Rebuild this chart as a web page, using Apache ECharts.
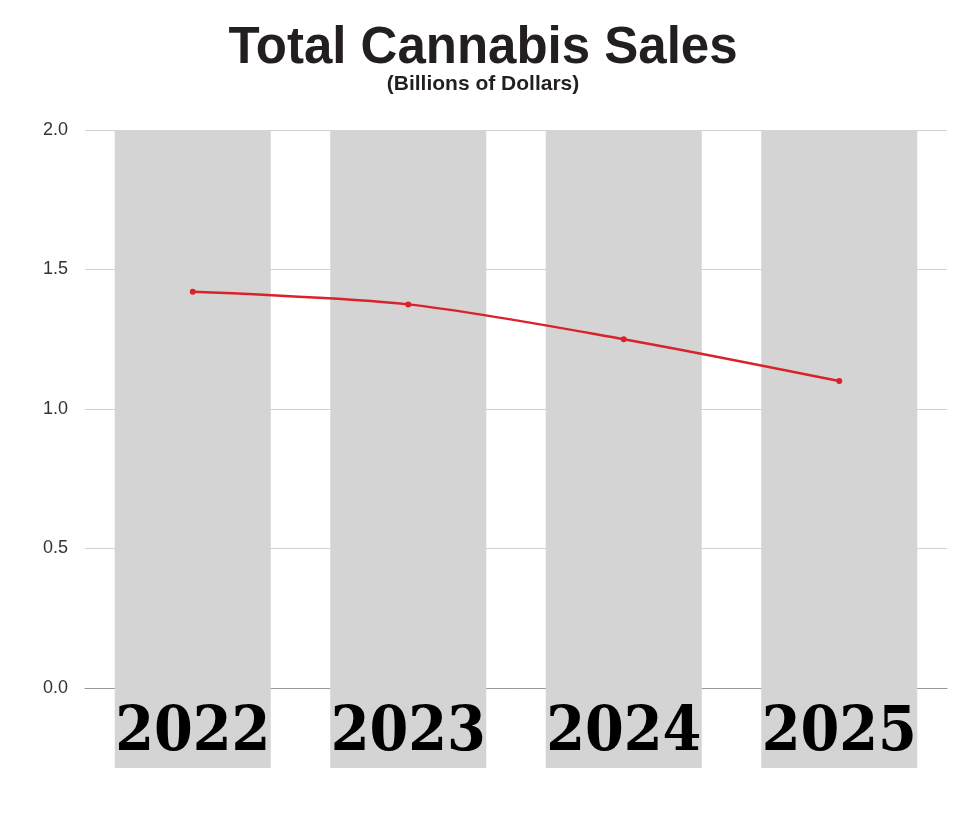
<!DOCTYPE html>
<html><head><meta charset="utf-8">
<script src="https://cdn.jsdelivr.net/npm/echarts@6/dist/echarts.min.js"></script>
<style>html,body{margin:0;background:#fff}#c{width:980px;height:816px}</style>
</head><body><div id="c"></div>
<script>
const categories = ['2022','2023','2024','2025'];
const salesValues = [1.42, 1.375, 1.25, 1.10];
const backgroundValues = [2.0, 2.0, 2.0, 2.0];
const yTicks = {min: 0, max: 2, interval: 0.5};

const chart = echarts.init(document.getElementById('c'));
chart.setOption({
  animation: false,
  title: {
    text: 'Total Cannabis Sales',
    subtext: '(Billions of Dollars)',
    left: 478, textAlign: 'center', top: 18, itemGap: 0,
    textStyle: {fontFamily: 'Liberation Sans', fontWeight: 'bold', fontSize: 51, color: '#231f20'},
    subtextStyle: {fontFamily: 'Liberation Sans', fontWeight: 'bold', fontSize: 21, color: '#231f20'}
  },
  grid: {left: 85, right: 33, top: 130, bottom: 128},
  xAxis: {
    type: 'category', data: categories,
    axisLine: {lineStyle: {color: '#999', width: 1}},
    axisTick: {show: false},
    axisLabel: {
      interval: 0, margin: 0, width: 156, height: 80, lineHeight: 92, align: 'center',
      backgroundColor: '#d4d4d4', overflow: 'none',
      fontFamily: 'DejaVu Serif Condensed', fontWeight: 'bold', fontSize: 62, color: '#000'
    }
  },
  yAxis: {
    type: 'value', min: yTicks.min, max: yTicks.max, interval: yTicks.interval,
    axisLabel: {formatter: v => v.toFixed(1), fontFamily: 'Liberation Sans', fontSize: 18, color: '#333', margin: 17},
    splitLine: {lineStyle: {color: '#d0d0d0'}},
    axisLine: {show: false}, axisTick: {show: false}
  },
  series: [
    {type: 'bar', data: backgroundValues, barWidth: 156, itemStyle: {color: '#d4d4d4'}, silent: true, z: 1},
    {type: 'line', data: salesValues, smooth: 0.3, symbol: 'circle', symbolSize: 6,
     lineStyle: {color: '#d9232a', width: 2.5}, itemStyle: {color: '#d9232a'}, z: 5}
  ]
});
</script></body></html>
